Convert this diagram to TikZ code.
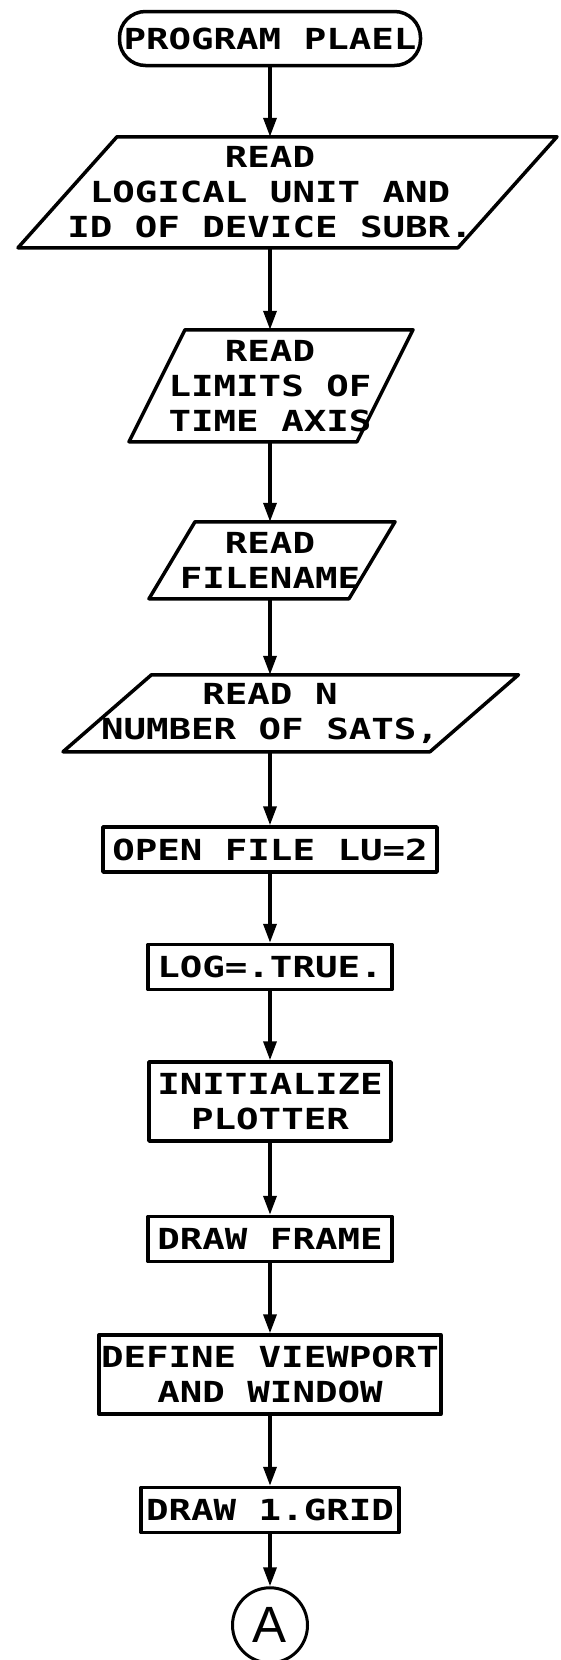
\documentclass[tikz,border=0pt]{standalone}
\usepackage{fontspec}
\newfontfamily\plotterfont[FakeStretch=1.29]{DejaVu Sans Mono}
\newfontfamily\connfont{Liberation Sans}
\usetikzlibrary{arrows.meta,positioning}
\newcommand\boxfont{\plotterfont\bfseries\fontsize{29}{35}\selectfont}
\tikzstyle{terminal}=[
	rectangle,
	rounded corners=26pt,
	draw,
	line width=3.5pt,
	minimum width=301pt,
	minimum height=54pt,
	font=\boxfont
]
% parallelogram: #1 = shift of the lower edge, #2 = shift of the upper edge
\tikzset{io/.style 2 args={
	rectangle,
	outer sep=0pt,
	inner sep=2pt,
	align=center,
	font=\boxfont,
	append after command={\pgfextra{
		\draw [line width=3.5pt, line join=round]
			([xshift=#1]\tikzlastnode.south west) -- ([xshift=#1]\tikzlastnode.south east)
			-- ([xshift=#2]\tikzlastnode.north east) -- ([xshift=#2]\tikzlastnode.north west)
			-- cycle;}}
}}
\tikzstyle{process}=[
	rectangle,
	draw,
	line width=3.5pt,
	line join=round,
	inner sep=2pt,
	minimum height=45pt,
	align=center,
	font=\boxfont
]
\tikzstyle{connector}=[
	circle,
	draw,
	line width=3pt,
	minimum size=75pt,
	inner sep=0pt,
	font=\connfont\fontsize{51}{51}\selectfont
]
\tikzstyle{flow}=[
	->,
	>={Triangle[length=19pt,width=13pt]},
	line width=3.5pt
]

\begin{document}
\begin{tikzpicture}
\useasboundingbox (0,0) rectangle (560pt,-1660pt);
\node [terminal] (start) at (270pt,-38.5pt) {PROGRAM PLAEL};
\node [io={-32pt}{67pt}, minimum width=440pt, minimum height=111pt]
	(rdunit) [below=69.5pt of start] {READ\\LOGICAL UNIT AND\\ID OF DEVICE SUBR.};
\node [io={-27pt}{29pt}, minimum width=228pt, minimum height=112pt]
	(rdlim) [below=82pt of rdunit] {READ\\LIMITS OF\\TIME AXIS};
\node [io={-21pt}{25pt}, minimum width=200pt, minimum height=77pt]
	(rdfile) [below=80pt of rdlim] {READ\\FILENAME};
\node [io={-23.5pt}{65pt}, minimum width=367pt, minimum height=77pt]
	(rdsats) [below=76pt of rdfile] {READ N\\NUMBER OF SATS,};
\node [process, minimum width=334pt] (openf) [below=73.5pt of rdsats] {OPEN FILE LU=2};
\node [process, minimum width=244pt] (logt) [below=69pt of openf] {LOG=.TRUE.};
\node [process, minimum width=242pt, minimum height=79pt] (initp) [below=69pt of logt] {INITIALIZE\\PLOTTER};
\node [process, minimum width=244pt] (drawf) [below=72pt of initp] {DRAW FRAME};
\node [process, minimum width=334pt, minimum height=79pt] (defvw) [below=70pt of drawf] {DEFINE VIEWPORT\\AND WINDOW};
\node [process, minimum width=258pt] (grid) [below=70pt of defvw] {DRAW 1.GRID};
\node [connector] (conA) [below=52pt of grid] {A};

\draw [flow] (start) -- (rdunit);
\draw [flow] (rdunit) -- (rdlim);
\draw [flow] (rdlim) -- (rdfile);
\draw [flow] (rdfile) -- (rdsats);
\draw [flow] (rdsats) -- (openf);
\draw [flow] (openf) -- (logt);
\draw [flow] (logt) -- (initp);
\draw [flow] (initp) -- (drawf);
\draw [flow] (drawf) -- (defvw);
\draw [flow] (defvw) -- (grid);
\draw [flow] (grid) -- (conA);
\end{tikzpicture}
\end{document}
